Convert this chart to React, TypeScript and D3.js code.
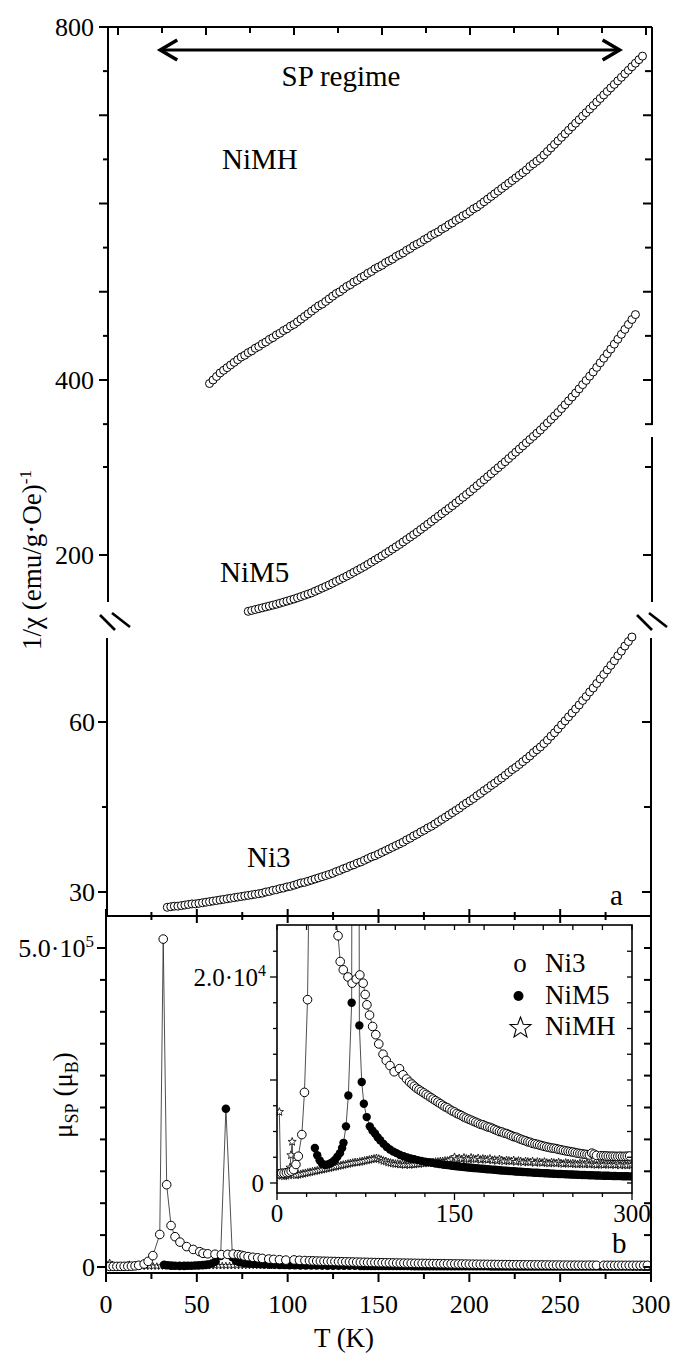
import React from 'react';
import * as d3 from 'd3';

const FONT = "'Liberation Serif', 'Times New Roman', 'DejaVu Serif', serif";

// ---------- Panel a : 1/chi vs T ----------
const niMH_a: [number, number][] = [
  [52,396],[54,400],[56,404],[58,408],[60,411],[62,414],[64,417],[66,420],[68,423],[70,426],[72,428],[74,431],[76,433],[78,436],[80,438],[82,441],[84,443],[86,446],[88,448],[90,451],[92,453],[94,456],[96,458],[98,461],[100,463],[102,466],[104,469],[106,472],[108,475],[110,478],[112,481],[114,484],[116,486],[118,489],[120,492],[122,495],[124,498],[126,500],[128,503],[130,506],[132,508],[134,511],[136,513],[138,516],[140,518],[142,521],[144,523],[146,526],[148,528],[150,530],[152,533],[154,535],[156,537],[158,540],[160,542],[162,544],[164,547],[166,549],[168,552],[170,554],[172,556],[174,559],[176,561],[178,564],[180,566],[182,568],[184,571],[186,573],[188,576],[190,578],[192,581],[194,583],[196,586],[198,588],[200,591],[202,594],[204,596],[206,599],[208,602],[210,605],[212,608],[214,611],[216,614],[218,617],[220,620],[222,623],[224,626],[226,629],[228,632],[230,635],[232,638],[234,642],[236,645],[238,648],[240,651],[242,655],[244,659],[246,663],[248,667],[250,671],[252,675],[254,679],[256,683],[258,687],[260,691],[262,695],[264,699],[266,703],[268,707],[270,711],[272,715],[274,719],[276,723],[278,727],[280,731],[282,735],[284,739],[286,743],[288,747],[290,751],[292,755],[294,759],[296,763],[298,767]
];
const niM5_a: [number, number][] = [
  [74,168],[76,168.5],[78,169],[80,169.5],[82,170],[84,170.5],[86,171],[88,171.5],[90,172],[92,172.6],[94,173.2],[96,173.8],[98,174.4],[100,175],[102,175.7],[104,176.4],[106,177.1],[108,177.8],[110,178.5],[112,179.4],[114,180.3],[116,181.2],[118,182.1],[120,183],[122,184],[124,185],[126,186],[128,187],[130,188],[132,189.1],[134,190.2],[136,191.3],[138,192.4],[140,193.5],[142,194.7],[144,195.9],[146,197.1],[148,198.3],[150,199.5],[152,200.8],[154,202.1],[156,203.4],[158,204.7],[160,206],[162,207.4],[164,208.8],[166,210.2],[168,211.6],[170,213],[172,214.5],[174,216],[176,217.5],[178,219],[180,220.5],[182,222],[184,223.5],[186,225],[188,226.5],[190,228],[192,229.6],[194,231.2],[196,232.8],[198,234.4],[200,236],[202,237.7],[204,239.4],[206,241.1],[208,242.8],[210,244.5],[212,246.2],[214,247.9],[216,249.6],[218,251.3],[220,253],[222,254.8],[224,256.6],[226,258.4],[228,260.2],[230,262],[232,263.8],[234,265.6],[236,267.4],[238,269.2],[240,271],[242,273],[244,275],[246,277],[248,279],[250,281],[252,283.2],[254,285.4],[256,287.6],[258,289.8],[260,292],[262,294.4],[264,296.8],[266,299.2],[268,301.6],[270,304],[272,306.6],[274,309.2],[276,311.8],[278,314.4],[280,317],[282,319.8],[284,322.6],[286,325.4],[288,328.2],[290,331],[292,333.8],[294,336.6]
];
const ni3_a: [number, number][] = [
  [28,27.3],[30,27.4],[32,27.5],[34,27.5],[36,27.6],[38,27.7],[40,27.8],[42,27.9],[44,27.9],[46,28],[48,28.1],[50,28.2],[52,28.3],[54,28.4],[56,28.5],[58,28.6],[60,28.7],[62,28.8],[64,28.9],[66,29],[68,29.1],[70,29.2],[72,29.3],[74,29.4],[76,29.5],[78,29.6],[80,29.7],[82,29.8],[84,30],[86,30.1],[88,30.3],[90,30.4],[92,30.6],[94,30.7],[96,30.9],[98,31],[100,31.2],[102,31.4],[104,31.6],[106,31.7],[108,31.9],[110,32.1],[112,32.3],[114,32.5],[116,32.7],[118,32.9],[120,33.1],[122,33.3],[124,33.6],[126,33.8],[128,34.1],[130,34.3],[132,34.6],[134,34.8],[136,35.1],[138,35.3],[140,35.6],[142,35.9],[144,36.2],[146,36.4],[148,36.7],[150,37],[152,37.3],[154,37.6],[156,37.9],[158,38.2],[160,38.5],[162,38.8],[164,39.2],[166,39.5],[168,39.9],[170,40.2],[172,40.6],[174,40.9],[176,41.3],[178,41.6],[180,42],[182,42.4],[184,42.8],[186,43.2],[188,43.6],[190,44],[192,44.4],[194,44.8],[196,45.3],[198,45.7],[200,46.1],[202,46.5],[204,47],[206,47.4],[208,47.9],[210,48.3],[212,48.8],[214,49.2],[216,49.7],[218,50.1],[220,50.6],[222,51.1],[224,51.6],[226,52],[228,52.5],[230,53],[232,53.5],[234,54],[236,54.6],[238,55.1],[240,55.6],[242,56.2],[244,56.8],[246,57.5],[248,58.1],[250,58.8],[252,59.5],[254,60.2],[256,60.9],[258,61.6],[260,62.3],[262,63],[264,63.8],[266,64.5],[268,65.3],[270,66],[272,66.8],[274,67.6],[276,68.4],[278,69.2],[280,70],[282,70.8],[284,71.7],[286,72.5],[288,73.4],[290,74.2],[292,75]
];

// ---------- Panel b : mu_SP vs T ----------
const ni3_b: [number, number][] = [
  [2,900],[4,950],[6,950],[8,1000],[10,1050],[12,1150],[14,1300],[16,1800],[18,2600],[21,4700],[23.2,8800],[25.8,17800],[29.6,51000],[31.5,514000],[33.4,129000],[35.8,65000],[38,47500],[40.7,39000],[44.4,32000],[48,27500],[51.6,24000],[53.4,21500],[56,20700],[60,20000],[63.5,19400],[67,19800],[70,20200],[72.8,19400],[74.5,18300],[76,17300],[78.2,16300],[80.8,15200],[83.5,14400],[86,13500],[89.6,12500],[92.3,11900],[95.5,11400],[99,10800],[103.5,11100],[106.5,10500],[109.5,10100],
  [112,9800],[114,9600],[116,9400],[118,9200],[120,9050],[122,8900],[124,8750],[126,8600],[128,8450],[130,8300],[132,8150],[134,8000],[136,7850],[138,7700],[140,7550],[142,7400],[144,7300],[146,7150],[148,7000],[150,6900],[152,6750],[154,6650],[156,6550],[158,6400],[160,6300],[162,6200],[164,6100],[166,6000],[168,5900],[170,5800],[172,5700],[174,5650],[176,5550],[178,5450],[180,5400],[182,5300],[184,5200],[186,5100],[188,5000],[190,4950],[192,4850],[194,4800],[196,4700],[198,4600],[200,4500],[202,4450],[204,4350],[206,4250],[208,4170],[210,4100],[212,4000],[214,3950],[216,3850],[218,3800],[220,3750],[222,3680],[224,3620],[226,3560],[228,3500],[230,3450],[232,3400],[234,3370],[236,3330],[238,3270],[240,3220],[242,3170],[244,3120],[246,3080],[248,3040],[250,3000],[252,2950],[254,2900],[256,2860],[258,2830],[260,2790],[262,2760],[264,2720],[266,2900],[268,2800],[270,2680],[274,2650],[276,2640],[278,2620],[280,2610],[282,2600],[284,2600],[286,2590],[288,2580],[290,2600],[292,2580],[294,2590],[296,2600],[298,2620]
];
const niM5_b: [number, number][] = [
  [32,3400],[34,2700],[36,2200],[38,1900],[40.5,1750],[43,1800],[45,1900],[47,2050],[49,2250],[51,2550],[53.2,2900],[55,3400],[56.2,3900],[58.3,5500],[60.3,8500],[63.1,17500],[66,248000],[69.6,15300],[71.6,9800],[73.4,7700],[75.8,6400],[78.4,5500],[80.6,5100],[82.8,4800],[85,4450],[87.2,4150],[90,3800],[92.7,3500],[95.5,3250],[98.3,3050],[101,2900],[104,2720],[107,2600],[110,2480],[113,2380],[116,2300],[119,2220],[122,2150],[125,2080],[128,2020],[131,1960],[134,1900],[137,1850],
  [140,1800],[142,1770],[144,1740],[146,1710],[148,1680],[150,1650],[152,1620],[154,1600],[156,1570],[158,1550],[160,1520],[162,1500],[164,1480],[166,1460],[168,1440],[170,1420],[172,1400],[174,1380],[176,1360],[178,1340],[180,1320],[182,1300],[184,1280],[186,1260],[188,1240],[190,1220],[192,1200],[194,1190],[196,1170],[198,1150],[200,1140],[202,1120],[204,1100],[206,1090],[208,1070],[210,1060],[212,1040],[214,1030],[216,1010],[218,1000],[220,990],[222,970],[224,960],[226,950],[228,940],[230,920],[232,910],[234,900],[236,890],[238,880],[240,870],[242,860],[244,850],[246,840],[248,830],[250,820],[252,810],[254,800],[256,790],[258,780],[260,770],[262,765],[264,755],[266,750],[268,740],[270,735],[272,725],[274,720],[276,710],[278,705],[280,700],[282,690],[284,685],[286,680],[288,670],[290,665],[292,660],[294,655],[296,650],[298,645],[300,640]
];
const niMH_b: [number, number][] = [
  [2,6900],[3,800],[4,700],[6,650],[8,700],[10,750],[11,1500],[11.8,2700],[12.8,4000],[14,800],[16,750],[18,800],[20,850],[22,900],[24,950],[26,1000],[28,1050],[30,1100],[32,1150],[34,1200],[36,1250],[38,1300],[40,1350],[42,1400],[44,1450],[46,1500],[48,1550],[50,1600],[52,1650],[54,1700],[56,1750],[58,1800],[60,1850],[62,1900],[64,1950],[66,2000],[68,2000],[70,2050],[72,2100],[74,2150],[76,2200],[78,2250],[80,2300],[82,2350],[84,2400],[86,2350],[88,2250],[90,2150],[92,2100],[94,2000],[96,1950],[98,1900],[100,1850],[102,1850],[104,1800],[106,1800],[108,1750],[110,1800],[112,1750],[114,1800],[116,1800],[118,1850],[120,1850],[122,1900],[124,1900],[126,1950],[128,1950],[130,2000],[132,2000],[134,2050],[136,2050],[138,2100],[140,2100],[142,2150],[144,2150],[146,2200],[148,2300],[150,2500],[152,2300],[154,2400],[156,2300],[158,2450],[160,2350],[162,2300],[164,2450],[166,2350],[168,2300],[170,2400],[172,2250],[174,2350],[176,2300],[178,2250],[180,2350],[182,2200],[184,2250],[186,2150],[188,2300],[190,2200],[192,2100],[194,2200],[196,2150],[198,2100],[200,2200],[202,2050],[204,2150],[206,2100],[208,2000],[210,2100],[212,2050],[214,2000],[216,2100],[218,1950],[220,2050],[222,2000],[224,1950],[226,2050],[228,1950],[230,1900],[232,2000],[234,1950],[236,1900],[238,2000],[240,1900],[242,1850],[244,1950],[246,1900],[248,1850],[250,1900],[252,1850],[254,1800],[256,1900],[258,1850],[260,1800],[262,1900],[264,1800],[266,1850],[268,1800],[270,1750],[272,1850],[274,1800],[276,1750],[278,1850],[280,1800],[282,1750],[284,1800],[286,1750],[288,1800],[290,1700],[292,1800],[294,1750],[296,1700],[298,1800],[300,1750]
];

// ---------- ticks & labels ----------
const tempTicks = [0, 25, 50, 75, 100, 125, 150, 175, 200, 225, 250, 275, 300];
const bXLabels = [0, 50, 100, 150, 200, 250, 300];
const seg1Ticks = [800, 750, 700, 650, 600, 550, 500, 450, 400, 350];
const seg1Labels = [800, 400];
const seg2Ticks = [250, 200];
const seg2Labels = [200];
const seg3Ticks = [60, 45, 30];
const seg3Labels = [60, 30];
const bYTicks = [0, 50000, 100000, 150000, 200000, 250000, 300000, 350000, 400000, 450000, 500000];
const inYTicks = [0, 2500, 5000, 7500, 10000, 12500, 15000, 17500, 20000, 22500];
const inXLabels = [0, 150, 300];
const legendNames = ['Ni3', 'NiM5', 'NiMH'];
const sampleLabels = ['NiMH', 'NiM5', 'Ni3'];
const spRange = [24, 285];

// ---------- scales ----------
const xA = d3.scaleLinear().domain([0, 300]).range([118, 646]);
const yA1 = d3.scaleLinear().domain([400, 800]).range([380, 27]);
const yA2 = d3.scaleLinear().domain([200, 250]).range([555, 467]);
const yA3 = d3.scaleLinear().domain([30, 60]).range([892, 722]);
const xB = d3.scaleLinear().domain([0, 300]).range([106, 651]);
const yB = d3.scaleLinear().domain([0, 500000]).range([1267, 948]);
const xI = d3.scaleLinear().domain([0, 300]).range([277, 632]);
const yI = d3.scaleLinear().domain([0, 20000]).range([1183, 977]);

const A = { l: 108, r: 652, t: 27, b: 916 };
const B = { l: 106, r: 651, t: 916, b: 1273 };
const I = { l: 277, r: 632, t: 925, b: 1193 };

function starPath(cx: number, cy: number, R: number) {
  const r = R * 0.42;
  let s = '';
  for (let i = 0; i < 10; i++) {
    const a = -Math.PI / 2 + (i * Math.PI) / 5;
    const rr = i % 2 === 0 ? R : r;
    s += (i === 0 ? 'M' : 'L') + (cx + rr * Math.cos(a)).toFixed(2) + ',' + (cy + rr * Math.sin(a)).toFixed(2);
  }
  return s + 'Z';
}

export default function App() {
  const lineB = d3.line<[number, number]>().x(d => xB(d[0])).y(d => yB(d[1]));
  const lineI = d3.line<[number, number]>().x(d => xI(d[0])).y(d => yI(d[1]));
  const ax = { stroke: '#000', strokeWidth: 2, fill: 'none' } as any;
  const lineStyle = { stroke: '#222', strokeWidth: 0.8, fill: 'none' } as any;
  const tf = { fontFamily: FONT } as any;

  const leftTicks = (vals: number[], sc: any, x: number, majorFn: (v: number) => boolean) =>
    vals.map((v, i) => {
      const len = majorFn(v) ? 9 : 5;
      return <line key={'lt' + x + i + v} x1={x - len} x2={x} y1={sc(v)} y2={sc(v)} {...ax} />;
    });
  const rightTicks = (vals: number[], sc: any, x: number, majorFn: (v: number) => boolean) =>
    vals.map((v, i) => {
      const len = majorFn(v) ? 9 : 7;
      return <line key={'rt' + x + i + v} x1={x - len} x2={x} y1={sc(v)} y2={sc(v)} {...ax} />;
    });

  const breakMarks = (x: number) => (
    <g>
      <line x1={x - 8} y1={615} x2={x + 7} y2={630} stroke="#000" strokeWidth={2.6} />
      <line x1={x + 4} y1={613} x2={x + 22} y2={627} stroke="#000" strokeWidth={2.6} />
    </g>
  );

  return (
    <svg width={680} height={1363} style={{ position: 'absolute', left: 0, top: 0, display: 'block', fontFamily: FONT }}>
      <rect x={0} y={0} width={680} height={1363} fill="#fff" />
      <defs>
        <clipPath id="clipB"><rect x={B.l} y={B.t} width={B.r - B.l} height={B.b - B.t} /></clipPath>
        <clipPath id="clipI"><rect x={I.l} y={I.t} width={I.r - I.l} height={I.b - I.t} /></clipPath>
      </defs>

      {/* ===== Panel a frame ===== */}
      <line x1={A.l} x2={A.r} y1={A.t} y2={A.t} {...ax} />
      <line x1={A.l} x2={A.l} y1={A.t} y2={602} {...ax} />
      <line x1={A.l - 1} x2={A.l - 1} y1={638} y2={A.b} {...ax} />
      <line x1={A.r} x2={A.r} y1={A.t} y2={425} {...ax} />
      <line x1={A.r} x2={A.r} y1={437} y2={602} {...ax} />
      <line x1={A.r - 1} x2={A.r - 1} y1={638} y2={A.b} {...ax} />
      {breakMarks(A.l)}
      {breakMarks(A.r - 7)}
      {tempTicks.map((t, i) => (
        <line key={'at' + t} x1={xA(t)} x2={xA(t)} y1={A.t} y2={A.t + (i % 2 === 0 ? 8 : 6)} {...ax} />
      ))}
      {leftTicks(seg1Ticks, yA1, A.l, v => v % 100 === 0)}
      {leftTicks(seg2Ticks, yA2, A.l, v => seg2Labels.includes(v))}
      {leftTicks(seg3Ticks, yA3, A.l - 1, v => seg3Labels.includes(v))}
      {rightTicks(seg1Ticks, yA1, A.r, v => v % 100 === 0)}
      {rightTicks(seg2Ticks, yA2, A.r, v => seg2Labels.includes(v))}
      {rightTicks(seg3Ticks, yA3, A.r - 1, v => seg3Labels.includes(v))}
      {seg1Labels.map(v => (
        <text key={'l1' + v} x={94} y={yA1(v)} dy="0.35em" fontSize={26} textAnchor="end" style={tf}>{v}</text>
      ))}
      {seg2Labels.map(v => (
        <text key={'l2' + v} x={94} y={yA2(v)} dy="0.35em" fontSize={26} textAnchor="end" style={tf}>{v}</text>
      ))}
      {seg3Labels.map(v => (
        <text key={'l3' + v} x={95} y={yA3(v)} dy="0.35em" fontSize={26} textAnchor="end" style={tf}>{v}</text>
      ))}
      <text transform="translate(41,560) rotate(-90)" fontSize={27} textAnchor="middle" style={tf}>
        1/χ (emu/g·Oe)<tspan dy={-10} fontSize={17}>-1</tspan>
      </text>

      {/* SP regime arrow */}
      <line x1={xA(spRange[0])} x2={xA(spRange[1])} y1={50} y2={50} stroke="#000" strokeWidth={3} />
      <polyline points={`${xA(spRange[0]) + 17},40 ${xA(spRange[0])},50 ${xA(spRange[0]) + 17},60`} fill="none" stroke="#000" strokeWidth={3.5} />
      <polyline points={`${xA(spRange[1]) - 17},40 ${xA(spRange[1])},50 ${xA(spRange[1]) - 17},60`} fill="none" stroke="#000" strokeWidth={3.5} />
      <text x={341} y={86} fontSize={29} textAnchor="middle" style={tf}>SP regime</text>

      <text x={222} y={169} fontSize={29} style={tf}>{sampleLabels[0]}</text>
      <text x={220} y={582} fontSize={29} style={tf}>{sampleLabels[1]}</text>
      <text x={247} y={867} fontSize={29} style={tf}>{sampleLabels[2]}</text>
      <text x={610} y={905} fontSize={29} style={tf}>a</text>

      {niMH_a.map((d, i) => (
        <circle key={'mh' + i} cx={xA(d[0])} cy={yA1(d[1])} r={4} fill="#fff" stroke="#000" strokeWidth={1} />
      ))}
      {niM5_a.map((d, i) => (
        <circle key={'m5' + i} cx={xA(d[0])} cy={yA2(d[1])} r={4} fill="#fff" stroke="#000" strokeWidth={1} />
      ))}
      {ni3_a.map((d, i) => (
        <circle key={'n3' + i} cx={xA(d[0])} cy={yA3(d[1])} r={4} fill="#fff" stroke="#000" strokeWidth={1} />
      ))}

      {/* ===== Panel b ===== */}
      <g clipPath="url(#clipB)">
        <path d={lineB(niMH_b) || ''} {...lineStyle} />
        {niMH_b.map((d, i) => (
          <path key={'bs' + i} d={starPath(xB(d[0]), yB(d[1]), 3.6)} fill="#fff" stroke="#000" strokeWidth={0.8} />
        ))}
        <path d={lineB(niM5_b) || ''} {...lineStyle} />
        {niM5_b.map((d, i) => (
          <circle key={'bf' + i} cx={xB(d[0])} cy={yB(d[1])} r={4.3} fill="#000" />
        ))}
        <path d={lineB(ni3_b) || ''} {...lineStyle} />
        {ni3_b.map((d, i) => (
          <circle key={'bo' + i} cx={xB(d[0])} cy={yB(d[1])} r={4.3} fill="#fff" stroke="#000" strokeWidth={1} />
        ))}
      </g>
      <line x1={B.l} x2={A.r} y1={B.t} y2={B.t} {...ax} />
      <line x1={B.l} x2={B.l} y1={B.t} y2={B.b} {...ax} />
      <line x1={B.l - 1} x2={B.r} y1={B.b} y2={B.b} {...ax} />
      <line x1={B.r} x2={B.r} y1={B.t} y2={B.b} {...ax} />
      {tempTicks.map(t => (
        <line key={'bt' + t} x1={xB(t)} x2={xB(t)} y1={t % 50 === 0 ? 909 : 912} y2={t % 50 === 0 ? 923 : 920} {...ax} />
      ))}
      {tempTicks.map(t => (
        <line key={'bb' + t} x1={xB(t)} x2={xB(t)} y1={B.b} y2={B.b + (t % 50 === 0 ? 9 : 6)} {...ax} />
      ))}
      {bXLabels.map(t => (
        <text key={'bxl' + t} x={xB(t)} y={1313} fontSize={26} textAnchor="middle" style={tf}>{t}</text>
      ))}
      {bYTicks.map(v => (
        <line key={'byl' + v} x1={B.l - (v % 500000 === 0 ? 9 : 6)} x2={B.l} y1={yB(v)} y2={yB(v)} {...ax} />
      ))}
      {bYTicks.map(v => (
        <line key={'byr' + v} x1={B.r - 7} x2={B.r} y1={yB(v)} y2={yB(v)} {...ax} />
      ))}
      <text x={94} y={yB(500000)} dy="0.35em" fontSize={26} textAnchor="end" style={tf}>
        5.0·10<tspan dy={-10} fontSize={17}>5</tspan>
      </text>
      <text x={95} y={yB(0)} dy="0.35em" fontSize={26} textAnchor="end" style={tf}>0</text>
      <text transform="translate(72,1095) rotate(-90)" fontSize={27} textAnchor="middle" style={tf}>
        μ<tspan dy={6} fontSize={18}>SP</tspan><tspan dy={-6}> (μ</tspan><tspan dy={6} fontSize={18}>B</tspan><tspan dy={-6}>)</tspan>
      </text>
      <text x={344} y={1347} fontSize={27} textAnchor="middle" style={tf}>T (K)</text>
      <text x={612} y={1253} fontSize={29} style={tf}>b</text>

      {/* ===== Inset ===== */}
      <rect x={I.l} y={I.t} width={I.r - I.l} height={I.b - I.t} fill="#fff" />
      <g clipPath="url(#clipI)">
        <path d={lineI(niMH_b) || ''} {...lineStyle} />
        {niMH_b.map((d, i) => (
          <path key={'is' + i} d={starPath(xI(d[0]), yI(d[1]), 4.3)} fill="#fff" stroke="#000" strokeWidth={0.8} />
        ))}
        <path d={lineI(niM5_b) || ''} {...lineStyle} />
        {niM5_b.map((d, i) => (
          <circle key={'if' + i} cx={xI(d[0])} cy={yI(d[1])} r={4.2} fill="#000" />
        ))}
        <path d={lineI(ni3_b) || ''} {...lineStyle} />
        {ni3_b.map((d, i) => (
          <circle key={'io' + i} cx={xI(d[0])} cy={yI(d[1])} r={4.3} fill="#fff" stroke="#000" strokeWidth={1} />
        ))}
      </g>
      <rect x={I.l} y={I.t} width={I.r - I.l} height={I.b - I.t} fill="none" stroke="#000" strokeWidth={1.6} />
      {tempTicks.map(t => (
        <line key={'itt' + t} x1={xI(t)} x2={xI(t)} y1={I.t} y2={I.t + 5} stroke="#000" strokeWidth={1.3} />
      ))}
      {tempTicks.map(t => (
        <line key={'itb' + t} x1={xI(t)} x2={xI(t)} y1={I.b} y2={I.b + (inXLabels.includes(t) ? 7 : 4)} stroke="#000" strokeWidth={1.3} />
      ))}
      {inYTicks.map(v => (
        <line key={'iyl' + v} x1={I.l - (v % 10000 === 0 ? 7 : 4)} x2={I.l} y1={yI(v)} y2={yI(v)} stroke="#000" strokeWidth={1.3} />
      ))}
      {inYTicks.map(v => (
        <line key={'iyr' + v} x1={I.r - 5} x2={I.r} y1={yI(v)} y2={yI(v)} stroke="#000" strokeWidth={1.3} />
      ))}
      {inXLabels.map(t => (
        <text key={'ixl' + t} x={xI(t)} y={1222} fontSize={25} textAnchor="middle" style={tf}>{t}</text>
      ))}
      <text x={266} y={yI(20000)} dy="0.35em" fontSize={25} textAnchor="end" style={tf}>
        2.0·10<tspan dy={-10} fontSize={16}>4</tspan>
      </text>
      <text x={264} y={yI(0)} dy="0.35em" fontSize={25} textAnchor="end" style={tf}>0</text>

      {/* legend */}
      <text x={520} y={972} fontSize={27} textAnchor="middle" style={tf}>o</text>
      <circle cx={518.5} cy={996} r={5} fill="#000" />
      <path d={starPath(520.5, 1028, 11)} fill="#fff" stroke="#000" strokeWidth={1.1} />
      {legendNames.map((n, i) => (
        <text key={'lg' + n} x={545} y={972 + i * 31.5} fontSize={27} style={tf}>{n}</text>
      ))}
    </svg>
  );
}
